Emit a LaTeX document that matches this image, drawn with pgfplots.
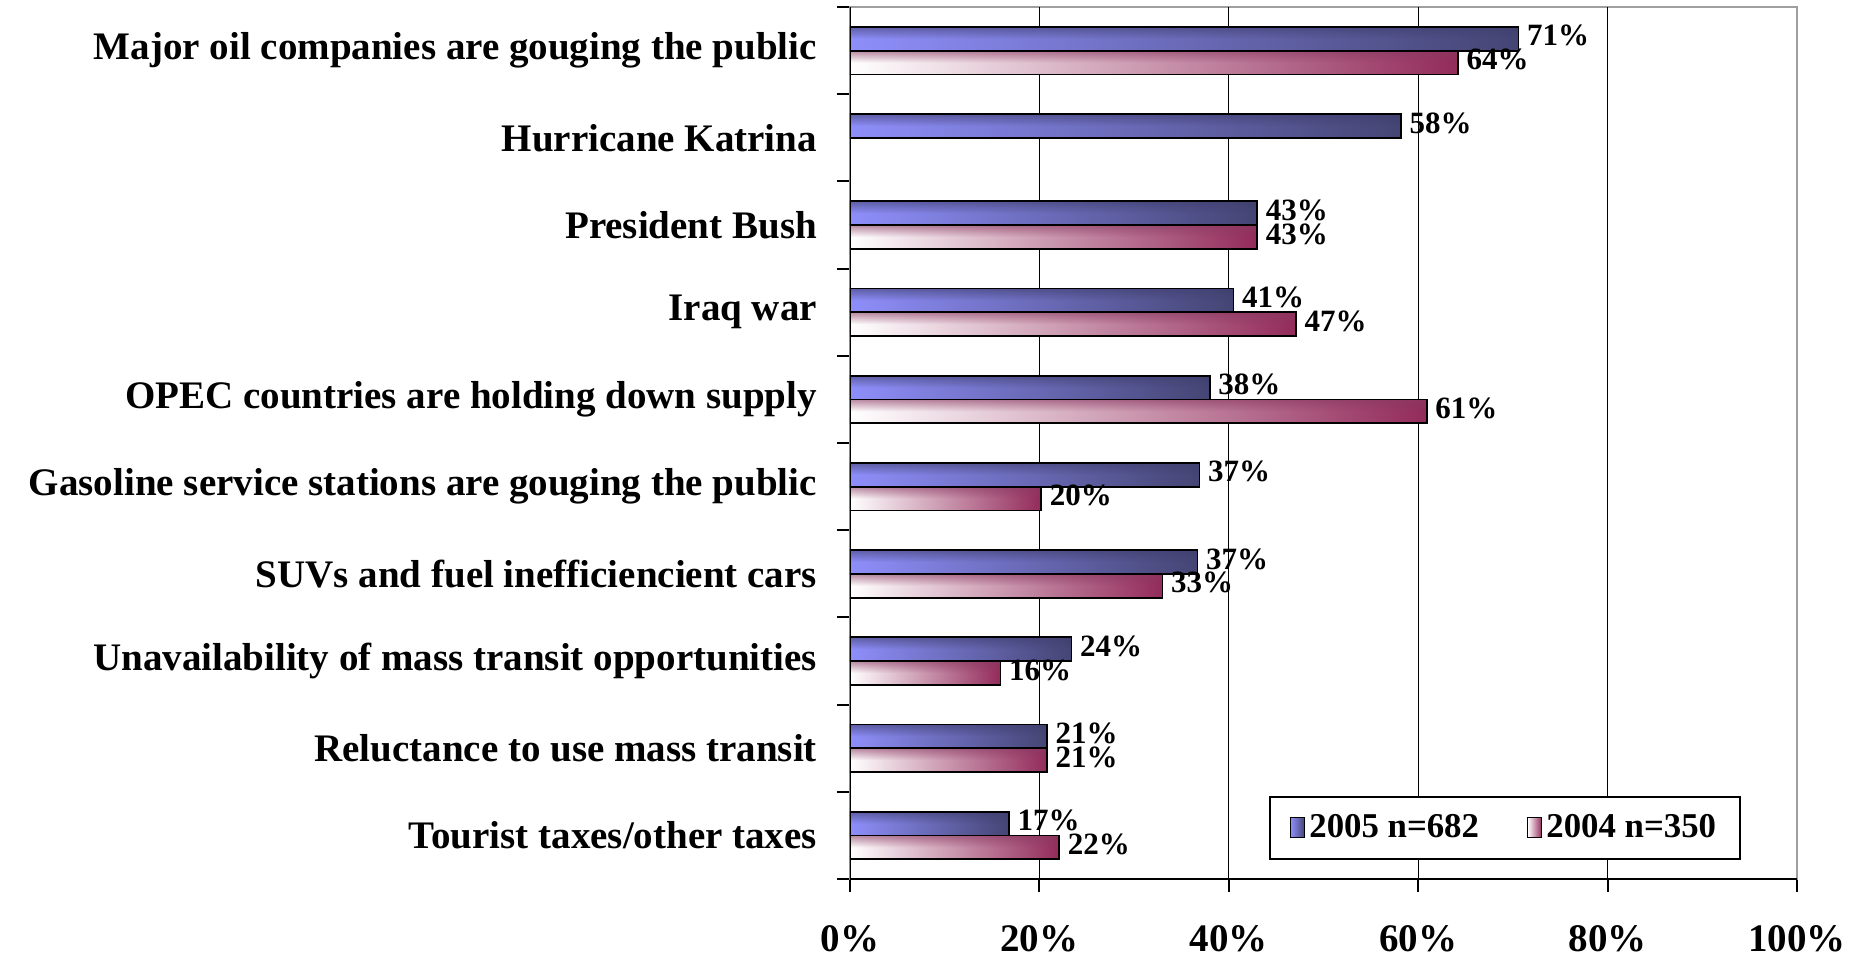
\documentclass[border=0pt]{standalone}
\usepackage{pgfplots}
\pgfplotsset{compat=1.18}
\usepackage{fontspec}
\setmainfont{Liberation Serif}
\usetikzlibrary{fadings}
\definecolor{blueL}{HTML}{8E8EFA}
\definecolor{blueD}{HTML}{454574}
\definecolor{redD}{HTML}{932B5B}
\definecolor{stripeA}{HTML}{3E3E6E}
\definecolor{stripeB}{HTML}{8A3A62}
\tikzfading[name=topstripe, top color=transparent!40, bottom color=transparent!100, middle color=transparent!100]

% one bar of a series: value, category index, label
\newcommand\barA[3]{%
  \addplot[forget plot, draw=none, left color=blueL, right color=blueD, bar shift=-0.1365] coordinates {(#1,#2)};
  \addplot[forget plot, draw=none, fill=stripeA, path fading=topstripe, bar shift=-0.1365] coordinates {(#1,#2)};
  \addplot[forget plot, draw=black, fill=none, line width=0.9pt, bar shift=-0.1365,
    nodes near coords={#3\%}] coordinates {(#1,#2)};
}
\newcommand\barB[3]{%
  \addplot[forget plot, draw=none, left color=white, middle color=white!55!redD, right color=redD, bar shift=0.1365] coordinates {(#1,#2)};
  \addplot[forget plot, draw=none, fill=stripeB, path fading=topstripe, bar shift=0.1365] coordinates {(#1,#2)};
  \addplot[forget plot, draw=black, fill=none, line width=0.9pt, bar shift=0.1365,
    nodes near coords={#3\%}] coordinates {(#1,#2)};
}

\begin{document}
\begin{tikzpicture}
\begin{axis}[
  scale only axis, width=473.5pt, height=436pt,
  xbar, xmin=0, xmax=100, ymin=-0.5, ymax=9.5, y dir=reverse,
  bar width=0.273,
  axis line style={draw=gray!75, line width=1pt},
  xtick={0,20,40,60,80,100},
  xticklabels={0\%,20\%,40\%,60\%,80\%,100\%},
  xtick pos=left, ytick pos=left,
  tick align=outside,
  major tick length=6.5pt,
  tick style={black, line width=1pt},
  extra x ticks={20,40,60,80},
  extra x tick labels={},
  extra x tick style={grid=major, major tick length=0pt},
  grid style={black, line width=0.6pt},
  ytick={-0.5,0.5,...,9.5},
  yticklabels={Major oil companies are gouging the public,
    Hurricane Katrina,
    President Bush,
    Iraq war,
    OPEC countries are holding down supply,
    Gasoline service stations are gouging the public,
    SUVs and fuel inefficiencient cars,
    Unavailability of mass transit opportunities,
    Reluctance to use mass transit,
    Tourist taxes/other taxes,{}},
  yticklabel style={font=\fontsize{19.5}{22}\selectfont\bfseries, anchor=east, yshift=-21.8pt, xshift=-6.5pt},
  xticklabel style={font=\fontsize{19.5}{22}\selectfont\bfseries, yshift=-13pt},
  legend style={at={(0.941,0.022)}, anchor=south east, legend columns=2, draw=black, line width=1pt,
    font=\fontsize{17.4}{20}\selectfont\bfseries, inner xsep=10pt, inner ysep=7pt,
    /tikz/every even column/.append style={column sep=22pt}},
  legend image code/.code={\draw[#1, draw=black, line width=0.7pt] (0pt,-5pt) rectangle (7pt,5pt);},
  every node near coord/.append style={font=\fontsize{15.5}{18}\selectfont\bfseries, text=black, anchor=west, xshift=0.5pt, yshift=1.5pt},
]
\addlegendimage{left color=blueL, right color=blueD}
\addlegendentry{2005 n=682}
\addlegendimage{left color=white, right color=redD}
\addlegendentry{2004 n=350}
% 2005 n=682
\barA{70.6}{0}{71}
\barA{58.2}{1}{58}
\barA{43.0}{2}{43}
\barA{40.5}{3}{41}
\barA{38.0}{4}{38}
\barA{36.9}{5}{37}
\barA{36.7}{6}{37}
\barA{23.4}{7}{24}
\barA{20.8}{8}{21}
\barA{16.8}{9}{17}
% 2004 n=350
\barB{64.2}{0}{64}
\barB{43.0}{2}{43}
\barB{47.1}{3}{47}
\barB{60.9}{4}{61}
\barB{20.2}{5}{20}
\barB{33.0}{6}{33}
\barB{15.9}{7}{16}
\barB{20.8}{8}{21}
\barB{22.1}{9}{22}
\draw[black, line width=1.2pt] (axis description cs:0,1) -- (axis description cs:0,0) -- (axis description cs:1,0);
\coordinate (ll) at (axis description cs:0,0);
\coordinate (ur) at (axis description cs:1,1);
\end{axis}
\pgfresetboundingbox
\path[use as bounding box] ([shift={(-425pt,-39pt)}]ll) rectangle ([shift={(34.5pt,3.5pt)}]ur);
\end{tikzpicture}
\end{document}
